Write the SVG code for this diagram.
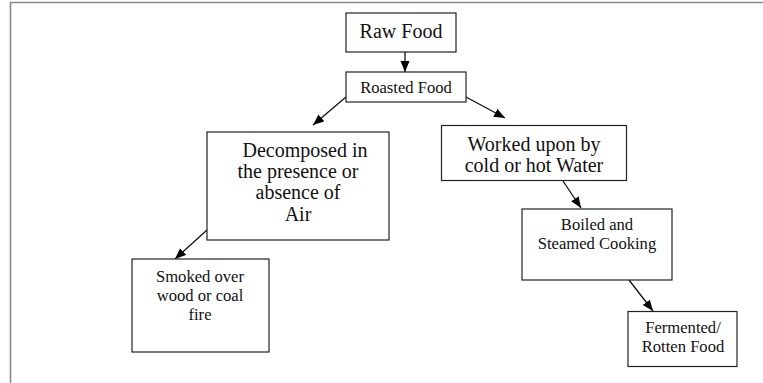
<svg xmlns="http://www.w3.org/2000/svg" width="763" height="383" viewBox="0 0 763 383">
<style>
.box{fill:#fff;stroke:#222;stroke-width:1.2}
.t{font-family:'Liberation Serif','Tinos','Times New Roman','DejaVu Serif',serif;fill:#111;text-anchor:middle}
.big{font-size:20px}
.sm{font-size:16.6px}
.con{stroke:#111;stroke-width:1.3;fill:none;marker-end:url(#ah)}
</style>
<defs>
<marker id="ah" markerUnits="userSpaceOnUse" markerWidth="12" markerHeight="10" refX="11" refY="4.5" orient="auto">
<path d="M0,0 L11,4.5 L0,9 z" fill="#000"/>
</marker>
</defs>
<rect width="763" height="383" fill="#fff"/>
<path d="M10.5,383 L10.5,2.5 L763,2.5" fill="none" stroke="#888" stroke-width="1.6"/>
<g id="connectors">
<line class="con" x1="405" y1="52" x2="405" y2="72"/>
<line class="con" x1="346" y1="97" x2="313" y2="125"/>
<line class="con" x1="466" y1="97" x2="505" y2="118"/>
<line class="con" x1="563" y1="181" x2="581" y2="208"/>
<line class="con" x1="629" y1="280" x2="653" y2="311"/>
<line class="con" x1="207" y1="230" x2="175" y2="259"/>
</g>
<g id="raw">
<rect class="box" x="346" y="13" width="110" height="39"/>
<text class="t big" x="401" y="38">Raw Food</text>
</g>
<g id="roasted">
<rect class="box" x="346" y="72" width="120" height="30"/>
<text class="t sm" x="406" y="93">Roasted Food</text>
</g>
<g id="decomposed">
<rect class="box" x="207" y="132" width="182" height="108"/>
<text class="t big" x="305" y="157">Decomposed in</text>
<text class="t big" x="298" y="178">the presence or</text>
<text class="t big" x="298" y="199">absence of</text>
<text class="t big" x="298" y="221">Air</text>
</g>
<g id="worked">
<rect class="box" x="441.5" y="125.5" width="185" height="55"/>
<text class="t big" x="534" y="151">Worked upon by</text>
<text class="t big" x="534" y="172">cold or hot Water</text>
</g>
<g id="boiled">
<rect class="box" x="522" y="209" width="150" height="71"/>
<text class="t sm" x="597" y="230">Boiled and</text>
<text class="t sm" x="597" y="249">Steamed Cooking</text>
</g>
<g id="smoked">
<rect class="box" x="132" y="259" width="137" height="93"/>
<text class="t sm" x="200" y="282">Smoked over</text>
<text class="t sm" x="200" y="301">wood or coal</text>
<text class="t sm" x="200" y="320">fire</text>
</g>
<g id="fermented">
<rect class="box" x="628" y="311.5" width="109" height="55"/>
<text class="t sm" x="683" y="333">Fermented/</text>
<text class="t sm" x="683" y="352">Rotten Food</text>
</g>
</svg>
